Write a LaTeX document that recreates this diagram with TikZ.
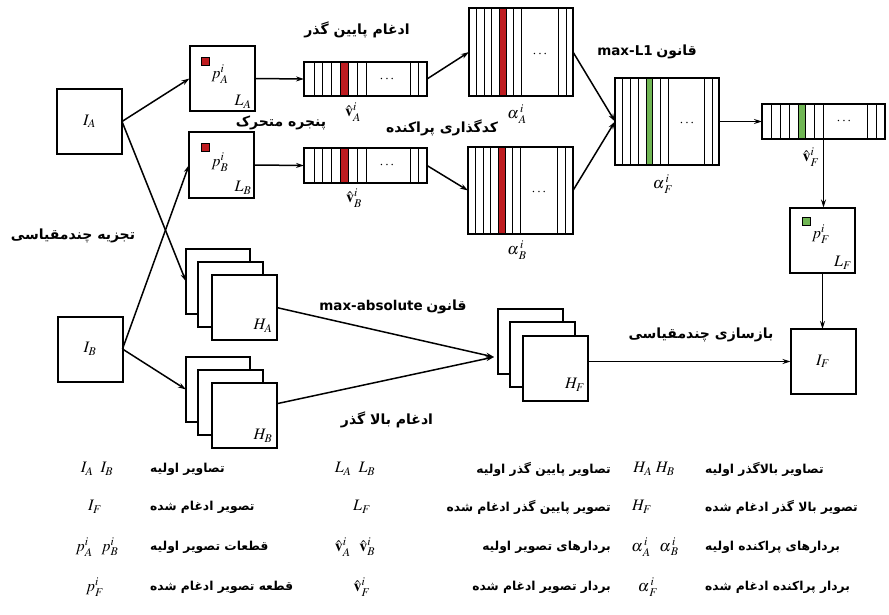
\documentclass[tikz,border=0pt]{standalone}
\usepackage{mathptmx}
\usepackage{fontspec}
\setmainfont{Liberation Serif}
\newfontfamily\fa[Script=Arabic]{DejaVu Sans}
\newfontfamily\latsans{DejaVu Sans}
\usetikzlibrary{arrows.meta,calc}
\TeXXeTstate=1
\definecolor{redc}{RGB}{190,28,32}
\definecolor{greenc}{RGB}{112,182,84}
\newcommand{\fat}[1]{{\fa\bfseries\beginR #1\endR}}
\newcommand{\al}[1]{\alpha^{\,i}_{\,#1}}
\newcommand{\myStrips}[5]{%
  \foreach \s in {#2} {\draw[stripe] ($(#1.north west)+(\s,0)$) -- ($(#1.south west)+(\s,0)$);}
  \draw[stripe, fill=#3] ($(#1.north west)+(#4,0)$) rectangle ($(#1.south west)+(#5,0)$);
  \draw[line width=2pt] (#1.north west) rectangle (#1.south east);
}
\begin{document}
\begin{tikzpicture}[x=1pt,y=-1pt,
  box/.style={draw, line width=2pt, minimum width=65pt, minimum height=65pt, inner sep=0pt, outer sep=0pt, fill=white, font=\fontsize{16}{18}\selectfont},
  strip/.style={draw, line width=2pt, inner sep=0pt, outer sep=0pt},
  stripe/.style={line width=1pt},
  conn/.style={line width=1.5pt, -{Stealth[length=8pt,width=5pt]}},
  lbl/.style={inner sep=0pt, font=\fontsize{16}{18}\selectfont},
  dots/.style={inner sep=0pt, font=\fontsize{14}{16}\selectfont},
  fatxt/.style={inner sep=0pt, font=\fontsize{14}{16}\selectfont},
  legtxt/.style={inner sep=0pt, font=\fontsize{12.3}{14}\selectfont},
  sq/.style={draw, line width=1pt, minimum size=8pt, inner sep=0pt}
]
\useasboundingbox (0,0) rectangle (889,615);

% input images
\node[box] (IA) at (89.5,121.5) {$I_A$};
\node[box] (IB) at (90,349) {$I_B$};

% low-pass images
\node[box] (LA) at (222,78.5) {};
\node[box] (LB) at (221.5,165) {};
\node[sq, fill=redc] (rA) at (205,61.5) {};
\node[sq, fill=redc] (rB) at (205,148) {};
\node[lbl] (pA) at (220,74) {$p_A^i$};
\node[lbl] (pB) at (220,162) {$p_B^i$};
\node[lbl] (lLA) at (243,102) {$L_A$};
\node[lbl] (lLB) at (243,188) {$L_B$};

% vectors
\node[strip, minimum width=123pt, minimum height=34pt] (vA) at (365.5,79) {};
\node[strip, minimum width=123pt, minimum height=35pt] (vB) at (365.5,165.5) {};
\myStrips{vA}{10,18,27,53,62,106,114}{redc}{36}{44}
\myStrips{vB}{10,18,27,53,62,106,114}{redc}{36}{44}
\node[dots] (dA) at ($(vA.west)+(83,0)$) {$\cdots$};
\node[dots] (dB) at ($(vB.west)+(83,0)$) {$\cdots$};
\node[lbl] (lvA) at (353,112) {$\hat{\mathbf{v}}_A^i$};
\node[lbl] (lvB) at (354,198) {$\hat{\mathbf{v}}_B^i$};

% sparse vectors
\node[strip, minimum width=104pt, minimum height=88pt] (aA) at (521,52) {};
\node[strip, minimum width=105pt, minimum height=87pt] (aB) at (520.5,190.5) {};
\myStrips{aA}{7,15,22,44,52,89,97}{redc}{30}{37}
\myStrips{aB}{7,15,22,44,52,89,97}{redc}{30}{37}
\node[dots] (daA) at ($(aA.west)+(71,2)$) {$\cdots$};
\node[dots] (daB) at ($(aB.west)+(71,2)$) {$\cdots$};
\node[lbl] (laA) at (517,114) {$\al{A}$};
\node[lbl] (laB) at (517,250) {$\al{B}$};

% fused sparse vector
\node[strip, minimum width=104pt, minimum height=87pt] (aF) at (667,121.5) {};
\myStrips{aF}{7,15,23,45,53,89,97}{greenc}{31}{37}
\node[dots] (daF) at ($(aF.west)+(72,2)$) {$\cdots$};
\node[lbl] (laF) at (663,184) {$\al{F}$};

% fused vector
\node[strip, minimum width=123pt, minimum height=35pt] (vF) at (823.5,121.5) {};
\myStrips{vF}{9,18,27,52,61,105,114}{greenc}{36}{43}
\node[dots] (dF) at ($(vF.west)+(82,0)$) {$\cdots$};
\node[lbl] (lvF) at (811,157) {$\hat{\mathbf{v}}_F^i$};

% fused low-pass
\node[box] (LF) at (822.5,240) {};
\node[sq, fill=greenc] (gF) at (806,221) {};
\node[lbl] (pF) at (821,234) {$p_F^i$};
\node[lbl] (lLF) at (843,263) {$L_F$};

% fused image
\node[box] (IF) at (823,361.5) {$I_F$};

% connectors (top)
\draw[conn] (IA.east) -- (LA.west);
\draw[conn] (IB.east) -- (LB.west);
\draw[conn] (LA.east) -- (vA.west);
\draw[conn] (LB.east) -- (vB.west);
\draw[conn] (vA.east) -- (aA.west);
\draw[conn] (vB.east) -- (aB.west);
\draw[conn] (aA.east) -- (aF.west);
\draw[conn] (aB.east) -- (aF.west);
\draw[conn] (aF.east) -- (vF.west);
\draw[conn] (vF.south) -- (vF.south |- LF.north);
\draw[conn] (LF.south) -- (LF.south |- IF.north);

% high-pass stacks
\node[box, minimum width=64pt] (HAb) at (218,281.5) {};
\node[box] (HAm) at (230.5,294.5) {};
\node[box] (HAf) at (244,307.5) {};
\node[lbl] (lHA) at (263,326) {$H_A$};
\node[box, minimum width=64pt] (HBb) at (218,389.5) {};
\node[box] (HBm) at (230.5,402.5) {};
\node[box] (HBf) at (244.5,415.5) {};
\node[lbl] (lHB) at (263,436) {$H_B$};
\node[box] (HFb) at (530,341.5) {};
\node[box] (HFm) at (542,354.5) {};
\node[box] (HFf) at (555.5,368.5) {};
\node[lbl] (lHF) at (575,385) {$H_F$};

\draw[conn] (IA.east) -- (HAb.west);
\draw[conn] (IB.east) -- (HBb.west);
\coordinate (hfin) at (494,357);
\draw[conn] (HAf.east) -- (hfin);
\draw[conn] (HBf.20) -- (hfin);
\draw[conn] (HFf.east |- IF.west) -- (IF.west);

% diagram texts
\node[fatxt] (t1) at (357,30) {\fat{ادغام پایین گذر}};
\node[fatxt] (t2) at (281,123) {\fat{پنجره متحرک}};
\node[fatxt] (t3) at (442,128) {\fat{کدگذاری پراکنده}};
\node[fatxt] (t4) at (647,52) {{\latsans\bfseries\fontsize{13.5}{16}\selectfont max-L1} \fat{قانون}};
\node[fatxt] (t5) at (73,236) {\fat{تجزیه چندمقیاسی}};
\node[fatxt] (t6) at (393,307) {{\latsans\bfseries\fontsize{13.5}{16}\selectfont max-absolute} \fat{قانون}};
\node[fatxt] (t7) at (387,420) {\fat{ادغام بالا گذر}};
\node[fatxt] (t8) at (701,335) {\fat{بازسازی چندمقیاسی}};

% legend
\node[lbl] (s11) at (97,469) {$I_A\;\;I_B$};
\node[lbl] (s21) at (355,469) {$L_A\;\;L_B$};
\node[lbl] (s31) at (654,469) {$H_A\;H_B$};
\node[lbl] (s12) at (95,507) {$I_F$};
\node[lbl] (s22) at (362,507) {$L_F$};
\node[lbl] (s32) at (642,507) {$H_F$};
\node[lbl] (s13) at (97,547) {$p_A^i\;\;\,p_B^i$};
\node[lbl] (s23) at (355,547) {$\hat{\mathbf{v}}_A^i\;\;\,\hat{\mathbf{v}}_B^i$};
\node[lbl] (s33) at (655,547) {$\al{A}\;\;\,\al{B}$};
\node[lbl] (s14) at (95,587) {$p_F^i$};
\node[lbl] (s24) at (362,587) {$\hat{\mathbf{v}}_F^i$};
\node[lbl] (s34) at (648,587) {$\al{F}$};

\node[legtxt, anchor=west] (e11) at (150,469) {\fat{تصاویر اولیه}};
\node[legtxt, anchor=west] (e12) at (150,507) {\fat{تصویر ادغام شده}};
\node[legtxt, anchor=west] (e13) at (150,547) {\fat{قطعات تصویر اولیه}};
\node[legtxt, anchor=west] (e14) at (150,587) {\fat{قطعه تصویر ادغام شده}};
\node[legtxt, anchor=east] (e21) at (611,469) {\fat{تصاویر پایین گذر اولیه}};
\node[legtxt, anchor=east] (e22) at (611,507) {\fat{تصویر پایین گذر ادغام شده}};
\node[legtxt, anchor=east] (e23) at (611,547) {\fat{بردارهای تصویر اولیه}};
\node[legtxt, anchor=east] (e24) at (611,587) {\fat{بردار تصویر ادغام شده}};
\node[legtxt, anchor=west] (e31) at (705,469) {\fat{تصاویر بالاگذر اولیه}};
\node[legtxt, anchor=west] (e32) at (705,507) {\fat{تصویر بالا گذر ادغام شده}};
\node[legtxt, anchor=west] (e33) at (705,547) {\fat{بردارهای پراکنده اولیه}};
\node[legtxt, anchor=west] (e34) at (705,587) {\fat{بردار پراکنده ادغام شده}};
\end{tikzpicture}
\end{document}
